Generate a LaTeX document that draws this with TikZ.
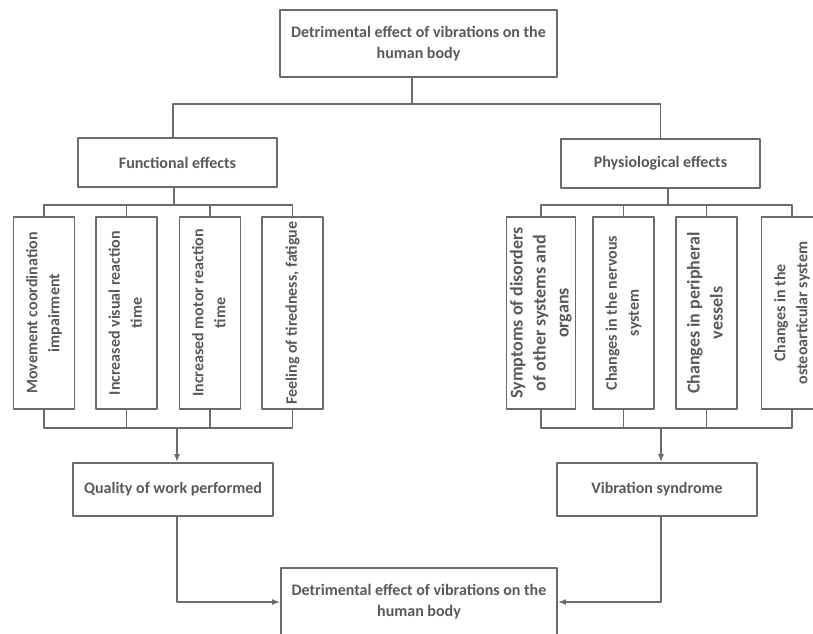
\documentclass[tikz,border=0pt]{standalone}
\usepackage{fontspec}
\setmainfont{Carlito}
\usetikzlibrary{positioning,arrows.meta}
\definecolor{linegray}{HTML}{6B6B6B}
\definecolor{textgray}{HTML}{595959}
\newcommand{\vlabel}[1]{\rotatebox{90}{\begin{tabular}{@{}c@{}}#1\end{tabular}}}
\begin{document}
\begin{tikzpicture}[line join=round, line cap=round,>={Latex[length=8pt,width=6pt]},x=1pt,y=-1pt]
	\tikzset{link/.style={draw=linegray,line width=1.7pt},
		box/.style={draw=linegray,line width=1.7pt,text=textgray,align=center,inner sep=0pt,
			font=\bfseries\fontsize{16}{21}\selectfont},
		midbox/.style={box,minimum width=199pt,minimum height=49pt},
		leaf/.style={box,minimum width=61pt,minimum height=192pt,font=\bfseries\fontsize{16}{22}\selectfont},
		bigleaf/.style={leaf,font=\bfseries\fontsize{18}{23}\selectfont}}
	\useasboundingbox (0,0) rectangle (813,633);
	% top
	\node[box,minimum width=277pt,minimum height=67pt] (top) at (418.5,43.5) {Detrimental effect of vibrations on the\\human body};
	\node[midbox] (func) at (177.5,162.5) {Functional effects};
	\node[midbox] (phys) at (660.5,163.5) {Physiological effects};
	% left leaves
	\node[leaf] (f1) at (44,313) {\vlabel{Movement coordination\\impairment}};
	\node[leaf] (f2) at (126.5,313) {\vlabel{Increased visual reaction\\time}};
	\node[leaf] (f3) at (210,313) {\vlabel{Increased motor reaction\\time}};
	\node[leaf] (f4) at (292.5,313) {\vlabel{Feeling of tiredness, fatigue}};
	% right leaves
	\node[bigleaf] (p1) at (541,313) {\vlabel{Symptoms of disorders\\of other systems and\\organs}};
	\node[leaf] (p2) at (623.5,313) {\vlabel{Changes in the nervous\\system}};
	\node[bigleaf] (p3) at (706.5,313) {\vlabel{Changes in peripheral\\vessels}};
	\node[leaf] (p4) at (792,313) {\vlabel{Changes in the\\osteoarticular system}};
	% outcomes
	\node[box,minimum width=200pt,minimum height=53pt] (qual) at (173,489.5) {Quality of work performed};
	\node[box,minimum width=200pt,minimum height=53pt] (vib) at (657,489.5) {Vibration syndrome};
	\node[box,minimum width=276pt,minimum height=68pt] (res) at (419,602) {Detrimental effect of vibrations on the\\human body};
	% connectors
	\coordinate (topsplit) at (0,104);
	\coordinate (leafsplit) at (0,205);
	\coordinate (leafjoin) at (0,428);
	\draw[link] ([xshift=-6.5pt]top.south) -- ([xshift=-6.5pt]top.south |- topsplit);
	\draw[link] ([xshift=-4.5pt]func.north) |- (phys.north |- topsplit) -- (phys.north);
	\draw[link] ([xshift=-3.5pt]func.south) -- ([xshift=-3.5pt]func.south |- leafsplit);
	\draw[link] ([xshift=7.5pt]phys.south) -- ([xshift=7.5pt]phys.south |- leafsplit);
	\draw[link] (f1.north) |- (f4.north |- leafsplit) -- (f4.north);
	\draw[link] (p1.north) |- (p4.north |- leafsplit) -- (p4.north);
	\draw[link] (f1.south) |- (f4.south |- leafjoin) -- (f4.south);
	\draw[link] (p1.south) |- (p4.south |- leafjoin) -- (p4.south);
	\foreach \n in {f2,f3,p2,p3}
		\draw[link] (\n.north) -- (\n.north |- leafsplit) (\n.south) -- (\n.south |- leafjoin);
	\draw[link,->] ([xshift=4pt]qual.north |- leafjoin) -- ([xshift=4pt]qual.north);
	\draw[link,->] ([xshift=4pt]vib.north |- leafjoin) -- ([xshift=4pt]vib.north);
	\draw[link,->] ([xshift=4pt]qual.south) |- (res.west);
	\draw[link,->] ([xshift=4pt]vib.south) |- (res.east);
\end{tikzpicture}
\end{document}
